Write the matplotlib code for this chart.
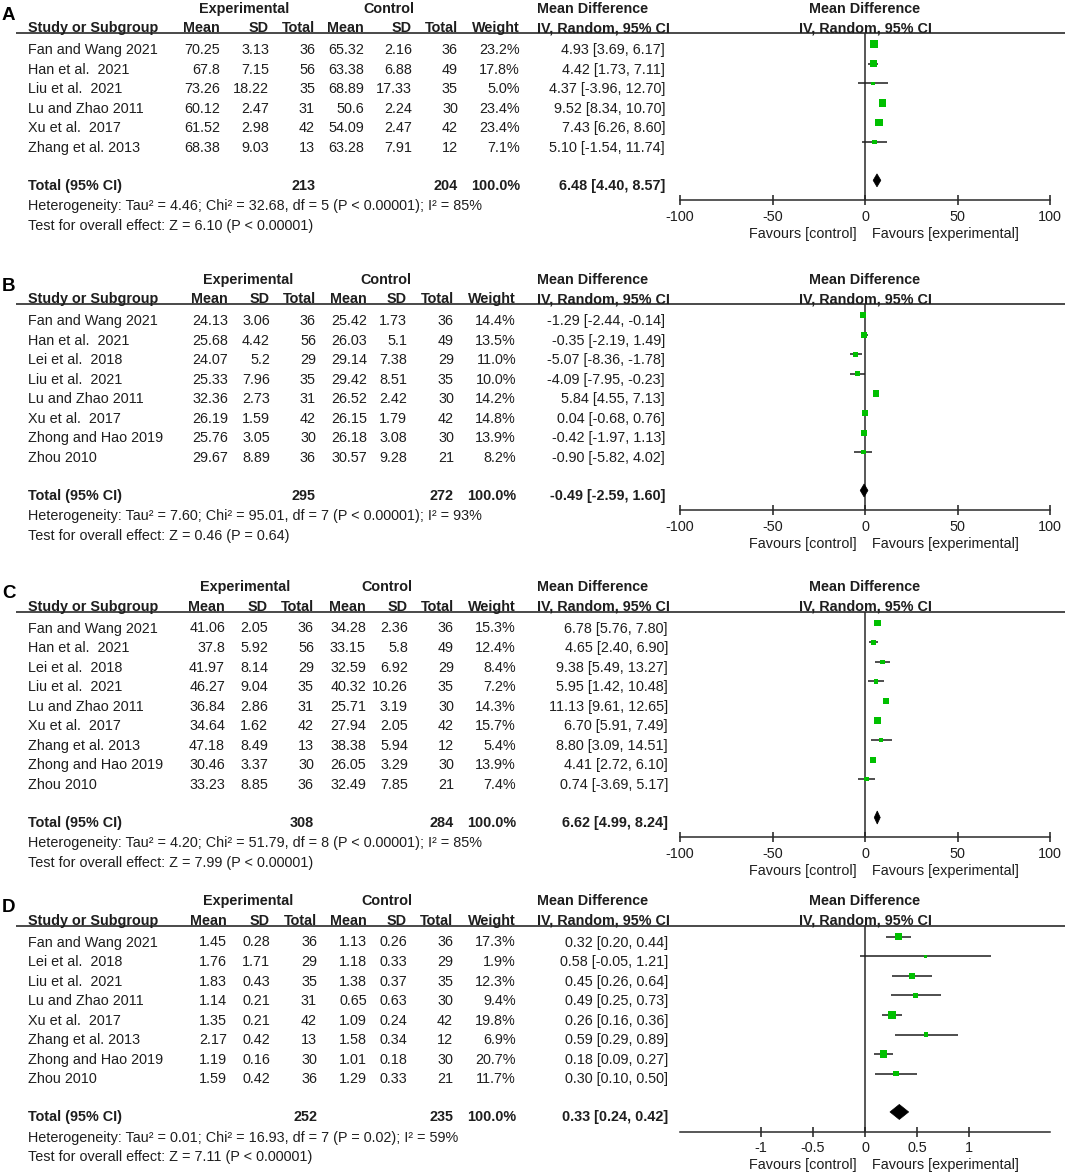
import matplotlib
matplotlib.use("Agg")
import matplotlib.pyplot as plt
from matplotlib.patches import Polygon
from matplotlib.transforms import offset_copy

plt.rcParams['font.family'] = ['Liberation Sans', 'DejaVu Sans']

# ---- panel A ----
a_study = ["Fan and Wang 2021", "Han et al.  2021", "Liu et al.  2021", "Lu and Zhao 2011",
           "Xu et al.  2017", "Zhang et al. 2013"]
a_exp_mean = [70.25, 67.8, 73.26, 60.12, 61.52, 68.38]
a_exp_sd = [3.13, 7.15, 18.22, 2.47, 2.98, 9.03]
a_exp_n = [36, 56, 35, 31, 42, 13]
a_ctl_mean = [65.32, 63.38, 68.89, 50.6, 54.09, 63.28]
a_ctl_sd = [2.16, 6.88, 17.33, 2.24, 2.47, 7.91]
a_ctl_n = [36, 49, 35, 30, 42, 12]
a_weight = [23.2, 17.8, 5.0, 23.4, 23.4, 7.1]
a_md = [4.93, 4.42, 4.37, 9.52, 7.43, 5.10]
a_lo = [3.69, 1.73, -3.96, 8.34, 6.26, -1.54]
a_hi = [6.17, 7.11, 12.70, 10.70, 8.60, 11.74]
a_tot_n = [213, 204]
a_tot_md = [6.48, 4.40, 8.57]
a_het = "Heterogeneity: Tau² = 4.46; Chi² = 32.68, df = 5 (P < 0.00001); I² = 85%"
a_z = "Test for overall effect: Z = 6.10 (P < 0.00001)"

# ---- panel B ----
b_study = ["Fan and Wang 2021", "Han et al.  2021", "Lei et al.  2018", "Liu et al.  2021",
           "Lu and Zhao 2011", "Xu et al.  2017", "Zhong and Hao 2019", "Zhou 2010"]
b_exp_mean = [24.13, 25.68, 24.07, 25.33, 32.36, 26.19, 25.76, 29.67]
b_exp_sd = [3.06, 4.42, 5.2, 7.96, 2.73, 1.59, 3.05, 8.89]
b_exp_n = [36, 56, 29, 35, 31, 42, 30, 36]
b_ctl_mean = [25.42, 26.03, 29.14, 29.42, 26.52, 26.15, 26.18, 30.57]
b_ctl_sd = [1.73, 5.1, 7.38, 8.51, 2.42, 1.79, 3.08, 9.28]
b_ctl_n = [36, 49, 29, 35, 30, 42, 30, 21]
b_weight = [14.4, 13.5, 11.0, 10.0, 14.2, 14.8, 13.9, 8.2]
b_md = [-1.29, -0.35, -5.07, -4.09, 5.84, 0.04, -0.42, -0.90]
b_lo = [-2.44, -2.19, -8.36, -7.95, 4.55, -0.68, -1.97, -5.82]
b_hi = [-0.14, 1.49, -1.78, -0.23, 7.13, 0.76, 1.13, 4.02]
b_tot_n = [295, 272]
b_tot_md = [-0.49, -2.59, 1.60]
b_het = "Heterogeneity: Tau² = 7.60; Chi² = 95.01, df = 7 (P < 0.00001); I² = 93%"
b_z = "Test for overall effect: Z = 0.46 (P = 0.64)"

# ---- panel C ----
c_study = ["Fan and Wang 2021", "Han et al.  2021", "Lei et al.  2018", "Liu et al.  2021",
           "Lu and Zhao 2011", "Xu et al.  2017", "Zhang et al. 2013", "Zhong and Hao 2019", "Zhou 2010"]
c_exp_mean = [41.06, 37.8, 41.97, 46.27, 36.84, 34.64, 47.18, 30.46, 33.23]
c_exp_sd = [2.05, 5.92, 8.14, 9.04, 2.86, 1.62, 8.49, 3.37, 8.85]
c_exp_n = [36, 56, 29, 35, 31, 42, 13, 30, 36]
c_ctl_mean = [34.28, 33.15, 32.59, 40.32, 25.71, 27.94, 38.38, 26.05, 32.49]
c_ctl_sd = [2.36, 5.8, 6.92, 10.26, 3.19, 2.05, 5.94, 3.29, 7.85]
c_ctl_n = [36, 49, 29, 35, 30, 42, 12, 30, 21]
c_weight = [15.3, 12.4, 8.4, 7.2, 14.3, 15.7, 5.4, 13.9, 7.4]
c_md = [6.78, 4.65, 9.38, 5.95, 11.13, 6.70, 8.80, 4.41, 0.74]
c_lo = [5.76, 2.40, 5.49, 1.42, 9.61, 5.91, 3.09, 2.72, -3.69]
c_hi = [7.80, 6.90, 13.27, 10.48, 12.65, 7.49, 14.51, 6.10, 5.17]
c_tot_n = [308, 284]
c_tot_md = [6.62, 4.99, 8.24]
c_het = "Heterogeneity: Tau² = 4.20; Chi² = 51.79, df = 8 (P < 0.00001); I² = 85%"
c_z = "Test for overall effect: Z = 7.99 (P < 0.00001)"

# ---- panel D ----
d_study = ["Fan and Wang 2021", "Lei et al.  2018", "Liu et al.  2021", "Lu and Zhao 2011",
           "Xu et al.  2017", "Zhang et al. 2013", "Zhong and Hao 2019", "Zhou 2010"]
d_exp_mean = [1.45, 1.76, 1.83, 1.14, 1.35, 2.17, 1.19, 1.59]
d_exp_sd = [0.28, 1.71, 0.43, 0.21, 0.21, 0.42, 0.16, 0.42]
d_exp_n = [36, 29, 35, 31, 42, 13, 30, 36]
d_ctl_mean = [1.13, 1.18, 1.38, 0.65, 1.09, 1.58, 1.01, 1.29]
d_ctl_sd = [0.26, 0.33, 0.37, 0.63, 0.24, 0.34, 0.18, 0.33]
d_ctl_n = [36, 29, 35, 30, 42, 12, 30, 21]
d_weight = [17.3, 1.9, 12.3, 9.4, 19.8, 6.9, 20.7, 11.7]
d_md = [0.32, 0.58, 0.45, 0.49, 0.26, 0.59, 0.18, 0.30]
d_lo = [0.20, -0.05, 0.26, 0.25, 0.16, 0.29, 0.09, 0.10]
d_hi = [0.44, 1.21, 0.64, 0.73, 0.36, 0.89, 0.27, 0.50]
d_tot_n = [252, 235]
d_tot_md = [0.33, 0.24, 0.42]
d_het = "Heterogeneity: Tau² = 0.01; Chi² = 16.93, df = 7 (P = 0.02); I² = 59%"
d_z = "Test for overall effect: Z = 7.11 (P < 0.00001)"

ticks_abc = [-100, -50, 0, 50, 100]
ticks_d = [-1, -0.5, 0, 0.5, 1]

panels = [
    dict(tag="A", study=a_study, em=a_exp_mean, es=a_exp_sd, en=a_exp_n, cm=a_ctl_mean, cs=a_ctl_sd,
         cn=a_ctl_n, w=a_weight, md=a_md, lo=a_lo, hi=a_hi, tn=a_tot_n, tmd=a_tot_md, het=a_het, z=a_z,
         ticks=ticks_abc, lim=100, top=7.5, cols=[220, 269, 315, 364, 412, 458, 520, 665], ec=244, cc=389),
    dict(tag="B", study=b_study, em=b_exp_mean, es=b_exp_sd, en=b_exp_n, cm=b_ctl_mean, cs=b_ctl_sd,
         cn=b_ctl_n, w=b_weight, md=b_md, lo=b_lo, hi=b_hi, tn=b_tot_n, tmd=b_tot_md, het=b_het, z=b_z,
         ticks=ticks_abc, lim=100, top=278.5, cols=[228, 270, 316, 367, 407, 454, 516, 665], ec=248, cc=386),
    dict(tag="C", study=c_study, em=c_exp_mean, es=c_exp_sd, en=c_exp_n, cm=c_ctl_mean, cs=c_ctl_sd,
         cn=c_ctl_n, w=c_weight, md=c_md, lo=c_lo, hi=c_hi, tn=c_tot_n, tmd=c_tot_md, het=c_het, z=c_z,
         ticks=ticks_abc, lim=100, top=586, cols=[225, 268, 314, 366, 408, 454, 516, 668], ec=245, cc=387),
    dict(tag="D", study=d_study, em=d_exp_mean, es=d_exp_sd, en=d_exp_n, cm=d_ctl_mean, cs=d_ctl_sd,
         cn=d_ctl_n, w=d_weight, md=d_md, lo=d_lo, hi=d_hi, tn=d_tot_n, tmd=d_tot_md, het=d_het, z=d_z,
         ticks=ticks_d, lim=1.78, top=900, cols=[227, 270, 317, 367, 407, 453, 516, 668], ec=248, cc=387),
]

W, H = 1065, 1175
FS = 10.4
INK = "#1e1e1e"
LINE = "#2a2a2a"
GREEN = "#00c000"
X0, X1 = 680, 1050   # forest plot x extent in pixels
BASE = 5.2           # baseline offset from visual text centre (px)

fig = plt.figure(figsize=(W / 100, H / 100), dpi=100)
bg = fig.add_axes([0, 0, 1, 1])
bg.set_xlim(0, W)
bg.set_ylim(H, 0)
bg.axis("off")


def txt(x, y, s, ha="left", bold=False, size=FS):
    bg.text(x, y + BASE, s, ha=ha, va="baseline", fontsize=size, color=INK,
            fontweight="bold" if bold else "normal")


for p in panels:
    top = p["top"]
    cols = p["cols"]
    n = len(p["study"])
    hdr = top + 19.5
    line_y = hdr + 6
    rows = [top + 41.3 + i * 19.55 for i in range(n)]
    tot = rows[-1] + 37.8
    axis_y = tot + 16

    # panel letter and headers
    bg.text(2, top + 12.5, p["tag"], ha="left", va="baseline", fontsize=13.5,
            fontweight="bold", color="black")
    txt(p["ec"], top, "Experimental", ha="center", bold=True)
    txt(p["cc"], top, "Control", ha="center", bold=True)
    txt(537, top, "Mean Difference", bold=True)
    txt(28, hdr, "Study or Subgroup", bold=True)
    for x, s in zip(cols[:7], ["Mean", "SD", "Total", "Mean", "SD", "Total", "Weight"]):
        txt(x, hdr, s, ha="right", bold=True)
    txt(537, hdr, "IV, Random, 95% CI", bold=True)
    bg.plot([16, W], [line_y, line_y], color=LINE, lw=1.2, solid_capstyle="butt")

    # study rows
    for i, y in enumerate(rows):
        txt(28, y, p["study"][i])
        vals = [f"{p['em'][i]:g}", f"{p['es'][i]:g}", f"{p['en'][i]}",
                f"{p['cm'][i]:g}", f"{p['cs'][i]:g}", f"{p['cn'][i]}",
                f"{p['w'][i]:.1f}%",
                f"{p['md'][i]:.2f} [{p['lo'][i]:.2f}, {p['hi'][i]:.2f}]"]
        for x, s in zip(cols, vals):
            txt(x, y, s, ha="right")

    # totals
    txt(28, tot, "Total (95% CI)", bold=True)
    txt(cols[2], tot, f"{p['tn'][0]}", ha="right", bold=True)
    txt(cols[5], tot, f"{p['tn'][1]}", ha="right", bold=True)
    txt(cols[6], tot, "100.0%", ha="right", bold=True)
    m, l, h = p["tmd"]
    txt(cols[7], tot, f"{m:.2f} [{l:.2f}, {h:.2f}]", ha="right", bold=True)
    txt(28, tot + 20.5, p["het"])
    txt(28, tot + 40.2, p["z"])

    # forest plot
    fa = fig.add_axes([X0 / W, 1 - axis_y / H, (X1 - X0) / W, (axis_y - line_y) / H])
    fa.set_xlim(-p["lim"], p["lim"])
    fa.set_ylim(axis_y, line_y)
    fa.patch.set_visible(False)
    for s in ["top", "left", "right"]:
        fa.spines[s].set_visible(False)
    fa.spines["bottom"].set_color(LINE)
    fa.spines["bottom"].set_linewidth(1.1)
    fa.set_yticks([])
    fa.set_xticks(p["ticks"])
    fa.set_xticklabels([f"{t:g}" for t in p["ticks"]])
    fa.tick_params(axis="x", direction="inout", length=7.2, width=1.1, pad=3,
                   labelsize=FS, colors=INK)
    fa.axvline(0, color=LINE, lw=1.1, zorder=1)

    ys = [y - 4.5 for y in rows]
    fa.hlines(ys, p["lo"], p["hi"], color=INK, lw=1.1, zorder=2)
    sides = [max(3.5, 1.6 * wt ** 0.5) * 0.72 for wt in p["w"]]
    fa.scatter(p["md"], ys, marker="s", s=[sd ** 2 for sd in sides], color=GREEN,
               linewidths=0, zorder=3)
    yd = tot - 4
    hh = 7.5 if p["lim"] < 10 else 6.5
    fa.add_patch(Polygon([(l, yd), (m, yd - hh), (h, yd), (m, yd + hh)], closed=True,
                         facecolor="black", edgecolor="black", lw=0.5, zorder=3))

    # right-hand headers and favours labels, anchored at zero
    fa.text(0, top + BASE, "Mean Difference", ha="center", va="baseline", fontsize=FS,
            fontweight="bold", color=INK)
    fa.text(0, hdr + BASE, "IV, Random, 95% CI", ha="center", va="baseline", fontsize=FS,
            fontweight="bold", color=INK)
    fy = axis_y + 32 + BASE
    fa.text(0, fy, "Favours [control]", ha="right", va="baseline", fontsize=FS, color=INK,
            transform=offset_copy(fa.transData, fig=fig, x=-8, y=0, units="dots"))
    fa.text(0, fy, "Favours [experimental]", ha="left", va="baseline", fontsize=FS, color=INK,
            transform=offset_copy(fa.transData, fig=fig, x=7, y=0, units="dots"))

fig.savefig("out.png", dpi=100)
